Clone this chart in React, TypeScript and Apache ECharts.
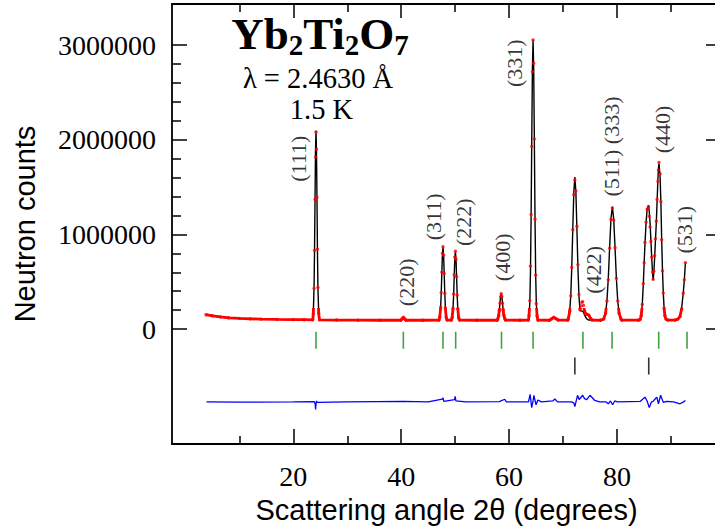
import React, { useEffect, useRef } from "react";
import * as echarts from "echarts";

// axis extents (2θ in degrees, counts)
const X_MIN = -2.5;
const X_MAX = 99.3;
const Y_MIN = -1215000;
const Y_MAX = 3436000;

// tick / label values
const xMajorTicks = [20, 40, 60, 80];
const xMinorTicks = [10, 30, 50, 70, 90];
const yMajorTicks = [0, 1000000, 2000000, 3000000];
const yMinorTicks = [200000, 400000, 600000, 800000, 1200000, 1400000, 1600000, 1800000, 2200000, 2400000, 2600000, 2800000];

// profile rows: [2θ, observed counts, calculated counts]
const profileRows: [number, number, number][] = [
  [3.8, 152000, 152000], [5, 140000, 140000], [6.5, 128000, 128000], [8, 119000, 119000],
  [10, 113000, 113000], [12, 108000, 108000], [14, 105000, 105000], [17, 102000, 102000],
  [20, 100000, 100000], [22, 99000, 99000], [23.6, 98000, 98000],
  [23.7, 160000, 168000], [23.84, 430000, 438000], [23.93, 830000, 836000], [24.02, 1370000, 1382000],
  [24.11, 1820000, 1888000], [24.2, 2080000, 2098000], [24.29, 1900000, 1888000], [24.38, 1390000, 1382000],
  [24.47, 845000, 836000], [24.56, 440000, 438000], [24.7, 166000, 168000], [24.85, 97000, 97000],
  [28, 95000, 95000], [32, 94000, 94000], [36, 93000, 93000],
  [39.9, 93000, 93000], [40.15, 106000, 105000], [40.4, 124000, 120000], [40.65, 106000, 105000], [40.9, 93000, 93000],
  [44, 93000, 93000], [47.0, 94000, 94000],
  [47.15, 125000, 122000], [47.31, 230000, 225000], [47.42, 385000, 379000], [47.53, 600000, 590000],
  [47.64, 800000, 787000], [47.75, 870000, 868000], [47.86, 780000, 787000], [47.97, 588000, 590000],
  [48.08, 377000, 379000], [48.19, 224000, 225000], [48.35, 122000, 122000], [48.5, 95000, 95000],
  [49.3, 94000, 94000], [49.45, 122000, 120000], [49.61, 220000, 216000], [49.72, 370000, 360000],
  [49.83, 575000, 558000], [49.94, 760000, 742000], [50.05, 822000, 818000], [50.16, 735000, 742000],
  [50.27, 552000, 558000], [50.38, 358000, 360000], [50.49, 215000, 216000], [50.65, 120000, 120000],
  [50.8, 95000, 95000], [54, 93000, 93000], [57.8, 93000, 93000],
  [57.9, 104000, 104000], [58.07, 141000, 141000], [58.19, 196000, 196000], [58.31, 273000, 273000],
  [58.43, 343000, 343000], [58.55, 373000, 373000], [58.67, 343000, 343000], [58.79, 273000, 273000],
  [58.91, 198000, 196000], [59.03, 146000, 141000], [59.2, 112000, 104000], [59.35, 94000, 93000],
  [62, 93000, 93000], [63.6, 94000, 94000],
  [63.7, 140000, 132000], [63.85, 300000, 278000], [63.97, 665000, 597000], [64.09, 1210000, 1187000],
  [64.21, 1930000, 1997000], [64.33, 2720000, 2747000], [64.45, 3055000, 3058000], [64.57, 2810000, 2747000],
  [64.69, 2010000, 1997000], [64.81, 1160000, 1187000], [64.93, 570000, 597000], [65.05, 268000, 278000],
  [65.2, 135000, 132000], [65.35, 94000, 94000],
  [67.5, 93000, 93000], [67.9, 108000, 104000], [68.3, 124000, 116000], [68.7, 110000, 105000], [69.1, 95000, 94000],
  [70.9, 94000, 94000], [71.0, 111000, 111000], [71.25, 188000, 188000], [71.44, 351000, 351000],
  [71.63, 650000, 652000], [71.82, 1050000, 1066000], [72.01, 1420000, 1449000], [72.2, 1575000, 1608000],
  [72.39, 1460000, 1449000], [72.58, 1085000, 1066000], [72.77, 680000, 652000], [72.96, 365000, 351000],
  [73.15, 205000, 200000], [73.35, 245000, 190000], [73.5, 282000, 190000], [73.65, 290000, 188000],
  [73.8, 250000, 178000], [74.0, 190000, 150000], [74.2, 160000, 125000], [74.5, 155000, 102000],
  [74.8, 145000, 95000], [75.1, 112000, 94000], [75.4, 95000, 93000], [77.0, 93000, 93000],
  [77.55, 106000, 106000], [77.9, 168000, 168000], [78.15, 297000, 297000], [78.4, 520000, 536000],
  [78.65, 855000, 863000], [78.9, 1160000, 1167000], [79.15, 1280000, 1293000], [79.4, 1150000, 1167000],
  [79.65, 860000, 863000], [79.9, 536000, 536000], [80.15, 297000, 297000], [80.4, 168000, 168000],
  [80.75, 106000, 106000], [80.9, 94000, 94000], [84.0, 94000, 94000],
  [84.3, 100000, 100000], [84.5, 140000, 140000], [84.7, 260000, 260000], [84.9, 480000, 480000],
  [85.05, 700000, 700000], [85.2, 915000, 900000], [85.4, 1130000, 1120000], [85.6, 1265000, 1270000],
  [85.85, 1290000, 1310000], [86.0, 1190000, 1240000], [86.15, 1080000, 1120000], [86.3, 925000, 940000],
  [86.45, 760000, 760000], [86.6, 600000, 600000], [86.72, 525000, 520000], [86.85, 610000, 600000],
  [87.0, 775000, 760000], [87.15, 955000, 940000], [87.3, 1140000, 1120000], [87.45, 1370000, 1350000],
  [87.6, 1560000, 1580000], [87.7, 1680000, 1700000], [87.8, 1760000, 1750000], [88.0, 1640000, 1620000],
  [88.15, 1345000, 1350000], [88.3, 945000, 950000], [88.45, 615000, 620000], [88.6, 380000, 380000],
  [88.75, 220000, 220000], [88.9, 140000, 140000], [89.1, 105000, 105000], [89.4, 96000, 96000],
  [90.8, 95000, 95000], [91.3, 105000, 105000], [91.7, 132000, 135000], [92.0, 215000, 220000],
  [92.3, 378000, 380000], [92.5, 520000, 520000], [92.7, 702000, 700000],
];

// difference curve (observed - calculated, shifted)
const differenceRows: [number, number][] = [
  [3.9, -770000], [10, -772000], [20, -770000], [23.9, -768000], [24.05, -790000], [24.12, -850000],
  [24.2, -800000], [24.3, -760000], [24.45, -775000], [30, -770000], [40.4, -765000], [45, -770000],
  [47.6, -740000], [47.75, -728000], [47.9, -765000], [49.9, -745000], [50.0, -712000], [50.15, -760000],
  [52, -770000], [58.2, -768000], [59.2, -742000], [59.5, -770000], [63.6, -770000], [63.9, -690000],
  [64.2, -830000], [64.45, -760000], [64.6, -700000], [65.0, -800000], [65.35, -750000], [66, -770000],
  [68.1, -760000], [68.5, -740000], [69, -770000], [71.6, -770000], [72.0, -780000], [72.2, -820000],
  [72.45, -760000], [72.7, -700000], [73.0, -745000], [73.65, -700000], [74.0, -735000], [74.4, -745000],
  [75.0, -700000], [75.9, -755000], [76.8, -770000], [78.0, -770000], [78.4, -790000], [78.8, -760000],
  [79.2, -800000], [79.6, -760000], [80.1, -770000], [84.3, -765000], [85.2, -720000], [85.6, -760000],
  [86.0, -830000], [86.4, -770000], [86.7, -765000], [87.0, -745000], [87.4, -720000], [87.7, -790000],
  [88.1, -700000], [88.6, -775000], [89.2, -765000], [90.5, -770000], [91.7, -790000], [92.2, -775000],
  [92.7, -755000],
];

// reflection markers
const nuclearReflections = [24.2, 40.4, 47.75, 50.1, 58.6, 64.45, 73.7, 79.1, 87.75, 93.0];
const secondPhaseReflections = [72.2, 85.9];
const nuclearRow = -118000;
const secondPhaseRow = -391000;

// Miller index labels
const hklText = ["(111)", "(220)", "(311)", "(222)", "(400)", "(331)", "(422)", "(511) (333)", "(440)", "(531)"];
const hklAngle = [20.9, 40.9, 45.9, 51.5, 58.8, 61.05, 75.6, 79.05, 88.45, 92.6];
const hklCounts = [1800000, 494000, 1186000, 1130000, 758000, 2810000, 626000, 1930000, 2110000, 1050000];

const SERIF = '"Liberation Serif", "Times New Roman", serif';
const SANS = '"Liberation Sans", Arial, sans-serif';

export default function App() {
  const ref = useRef<HTMLDivElement>(null);

  useEffect(() => {
    if (!ref.current) return;
    const chart = echarts.init(ref.current, undefined, { renderer: "svg" });

    const obs = profileRows.map((r) => [r[0], r[1]]);
    const calc = profileRows.map((r) => [r[0], r[2]]);
    const diff = differenceRows.map((r) => [r[0], r[1]]);
    const nuc = nuclearReflections.map((x) => [x, nuclearRow]);
    const sec = secondPhaseReflections.map((x) => [x, secondPhaseRow]);
    const hkl = hklText.map((t, i) => ({ name: t, value: [hklAngle[i], hklCounts[i]] }));

    const tickLine = { color: "#000", width: 1.5 };
    const frameLine = { show: true, onZero: false, lineStyle: { color: "#000", width: 1.8 } };
    const hiddenLine = { show: false, onZero: false };

    const baseX = {
      type: "value",
      min: X_MIN,
      max: X_MAX,
      splitLine: { show: false },
      axisLabel: { show: false },
    };
    const baseY = {
      type: "value",
      min: Y_MIN,
      max: Y_MAX,
      splitLine: { show: false },
      axisLabel: { show: false },
    };

    chart.setOption({
      animation: false,
      backgroundColor: "#fff",
      grid: { left: 172, right: -6, top: 4, bottom: 85, containLabel: false, outerBoundsMode: "none" },
      xAxis: [
        {
          ...baseX,
          position: "bottom",
          axisLine: frameLine,
          axisTick: { show: true, inside: true, length: 15, customValues: xMajorTicks, lineStyle: tickLine },
          axisLabel: {
            show: true,
            customValues: xMajorTicks,
            margin: 18,
            fontFamily: SERIF,
            fontSize: 28,
            color: "#000",
          },
          name: "Scattering angle 2θ (degrees)",
          nameLocation: "middle",
          nameGap: 51,
          nameTextStyle: { fontFamily: SANS, fontSize: 29, color: "#000" },
        },
        {
          ...baseX,
          position: "bottom",
          axisLine: hiddenLine,
          axisTick: { show: true, inside: true, length: 8, customValues: xMinorTicks, lineStyle: tickLine },
        },
        {
          ...baseX,
          position: "top",
          axisLine: frameLine,
          axisTick: { show: true, inside: true, length: 14, customValues: xMajorTicks, lineStyle: tickLine },
        },
        {
          ...baseX,
          position: "top",
          axisLine: hiddenLine,
          axisTick: { show: true, inside: true, length: 8, customValues: xMinorTicks, lineStyle: tickLine },
        },
      ],
      yAxis: [
        {
          ...baseY,
          position: "left",
          axisLine: frameLine,
          axisTick: { show: true, inside: true, length: 15, customValues: yMajorTicks, lineStyle: tickLine },
          axisLabel: {
            show: true,
            customValues: yMajorTicks,
            formatter: (v: number) => String(v),
            margin: 16,
            fontFamily: SERIF,
            fontSize: 28,
            color: "#000",
          },
          name: "Neutron counts",
          nameLocation: "middle",
          nameGap: 133,
          nameTextStyle: { fontFamily: SANS, fontSize: 29, color: "#000" },
        },
        {
          ...baseY,
          position: "left",
          axisLine: hiddenLine,
          axisTick: { show: true, inside: true, length: 9, customValues: yMinorTicks, lineStyle: tickLine },
        },
        {
          ...baseY,
          position: "right",
          axisLine: frameLine,
          axisTick: { show: true, inside: true, length: 15, customValues: yMajorTicks, lineStyle: tickLine },
        },
      ],
      visualMap: {
        type: "piecewise",
        show: false,
        seriesIndex: 1,
        dimension: 1,
        pieces: [
          { gte: -500000, lt: 220000, color: "#ff0000" },
          { gte: 220000, lte: 4000000, color: "rgba(255,0,0,0)" },
        ],
        outOfRange: { color: "rgba(255,0,0,0)" },
      },
      series: [
        {
          name: "calculated",
          type: "line",
          data: calc,
          symbol: "none",
          lineStyle: { color: "#000", width: 1.4 },
          z: 2,
        },
        {
          name: "observed band",
          type: "line",
          data: obs,
          symbol: "none",
          lineStyle: { width: 2.8 },
          z: 3,
        },
        {
          name: "observed",
          type: "scatter",
          data: obs,
          symbol: "circle",
          symbolSize: 3.4,
          itemStyle: { color: "#ff0000" },
          z: 4,
        },
        {
          name: "difference",
          type: "line",
          data: diff,
          symbol: "none",
          lineStyle: { color: "#0000ff", width: 1.3 },
          z: 2,
        },
        {
          name: "nuclear reflections",
          type: "scatter",
          data: nuc,
          symbol: "rect",
          symbolSize: [1.6, 17],
          itemStyle: { color: "#138a13" },
          z: 2,
        },
        {
          name: "second phase",
          type: "scatter",
          data: sec,
          symbol: "rect",
          symbolSize: [1.6, 17],
          itemStyle: { color: "#000" },
          z: 2,
        },
        {
          name: "hkl",
          type: "scatter",
          data: hkl,
          symbolSize: 1,
          itemStyle: { color: "rgba(0,0,0,0)" },
          label: {
            show: true,
            position: "inside",
            rotate: 90,
            formatter: "{b}",
            fontFamily: SERIF,
            fontSize: 22,
            color: "#000",
            align: "center",
            verticalAlign: "middle",
          },
          z: 5,
        },
      ],
      graphic: [
        {
          type: "text",
          x: 320,
          y: 34,
          style: {
            text: "{m|Yb}{s|2}{m|Ti}{s|2}{m|O}{s|7}",
            align: "center",
            verticalAlign: "middle",
            rich: {
              m: { fontSize: 45, fontFamily: SERIF, fontWeight: "bold", lineHeight: 50, fill: "#000" },
              s: {
                fontSize: 29,
                fontFamily: SERIF,
                fontWeight: "bold",
                lineHeight: 21,
                verticalAlign: "bottom",
                fill: "#000",
              },
            },
          },
        },
        {
          type: "text",
          x: 318,
          y: 78.7,
          style: {
            text: "λ = 2.4630 Å",
            fontSize: 28.5,
            fontFamily: SERIF,
            fill: "#000",
            align: "center",
            verticalAlign: "middle",
          },
        },
        {
          type: "text",
          x: 321.5,
          y: 109.4,
          style: {
            text: "1.5 K",
            fontSize: 28.5,
            fontFamily: SERIF,
            fill: "#000",
            align: "center",
            verticalAlign: "middle",
          },
        },
      ],
    });

    return () => chart.dispose();
  }, []);

  return (
    <div
      ref={ref}
      style={{ position: "absolute", left: 0, top: 0, width: 715, height: 529, overflow: "hidden" }}
    />
  );
}
